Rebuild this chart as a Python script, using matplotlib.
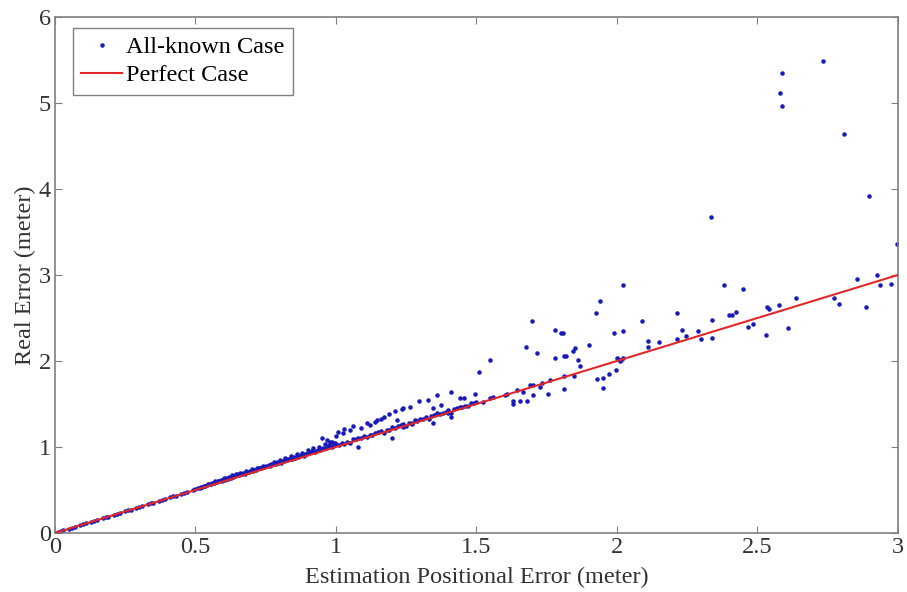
import matplotlib
matplotlib.use("Agg")
import matplotlib.pyplot as plt

plt.rcParams['font.family'] = ['Liberation Serif', 'DejaVu Serif']

# Estimated positional error (x) vs real error (y)
est_a = [0.01,0.03,0.05,0.07,0.09,0.11,0.13,0.15,0.17,0.19,0.21,0.23,0.25,0.27,0.29,0.31,0.33,0.35,0.37,0.39,0.41,0.43,0.45,0.47,0.49,
         0.02,0.06,0.10,0.14,0.18,0.22,0.26,0.30,0.34,0.38,0.42,0.46,0.50]
real_a = [0.01,0.03,0.05,0.071,0.09,0.111,0.13,0.151,0.171,0.19,0.212,0.231,0.252,0.272,0.291,0.313,0.332,0.353,0.374,0.392,0.415,0.434,0.456,0.474,0.496,
          0.02,0.06,0.10,0.141,0.181,0.222,0.263,0.303,0.344,0.385,0.426,0.467,0.508]

est_b = [0.51,0.52,0.53,0.54,0.55,0.56,0.57,0.58,0.59,0.60,0.61,0.62,0.63,0.64,0.65,0.66,0.67,0.68,0.69,0.70,0.71,0.72,0.73,0.74,0.75,
         0.515,0.535,0.555,0.575,0.595,0.615,0.635,0.655,0.675,0.695,0.715,0.735,
         0.525,0.545,0.565,0.585,0.605,0.625,0.645,0.665,0.685,0.705,0.725,0.745]
real_b = [0.52,0.54,0.545,0.56,0.575,0.58,0.60,0.605,0.62,0.64,0.635,0.655,0.67,0.665,0.69,0.695,0.70,0.72,0.71,0.74,0.735,0.76,0.75,0.775,0.78,
          0.525,0.55,0.565,0.59,0.605,0.63,0.65,0.67,0.69,0.715,0.73,0.755,
          0.54,0.565,0.58,0.61,0.62,0.645,0.68,0.685,0.71,0.725,0.75,0.77]

est_c = [0.76,0.77,0.78,0.79,0.80,0.81,0.82,0.83,0.84,0.85,0.86,0.87,0.88,0.89,0.90,0.91,0.92,0.93,0.94,0.95,0.96,0.97,0.98,0.99,1.00,
         0.765,0.785,0.805,0.825,0.845,0.865,0.885,0.905,0.925,0.945,0.965,0.985,
         0.775,0.795,0.815,0.835,0.855,0.875,0.895,0.915,0.935,0.955,0.975,0.995]
real_c = [0.79,0.80,0.83,0.82,0.85,0.84,0.87,0.86,0.89,0.88,0.92,0.90,0.93,0.92,0.96,0.94,0.99,0.95,1.00,0.98,1.03,1.00,1.06,1.01,1.04,
          0.775,0.80,0.815,0.845,0.86,0.88,0.90,0.925,0.94,0.96,0.985,1.00,
          0.80,0.815,0.84,0.86,0.875,0.905,0.915,0.95,0.965,0.99,1.02,1.05]

est_d = [1.01,1.03,1.05,1.07,1.09,1.11,1.13,1.15,1.17,1.19,1.21,1.23,1.25,1.27,1.29,1.31,1.33,1.35,1.37,1.39,1.41,1.43,1.45,1.47,1.49,
         0.95,0.967,0.985,1.008,1.026,1.05,1.09,1.11,1.14,1.145,1.16,1.17,1.19,1.21,1.216,1.234,1.263,1.296,1.326,1.344,1.36,1.374,
         1.41,1.44,1.457,1.495,1.08,1.20,1.24,1.27,1.344,1.40,1.41,1.237,1.00,1.03,1.06,1.12,
         1.02,1.04,1.06,1.08,1.10,1.12,1.14,1.16,1.18,1.20,1.22,1.24,1.26,1.28,1.30,1.32,1.34,1.36,1.38,1.40,1.42,1.44,1.46,1.48,1.50]
real_d = [1.02,1.04,1.05,1.09,1.10,1.12,1.14,1.17,1.16,1.20,1.22,1.25,1.24,1.28,1.30,1.33,1.32,1.37,1.38,1.41,1.40,1.45,1.46,1.48,1.51,
          1.10,1.08,1.06,1.18,1.16,1.198,1.217,1.276,1.29,1.31,1.33,1.35,1.38,1.415,1.31,1.44,1.46,1.535,1.547,1.457,1.61,1.49,
          1.64,1.566,1.573,1.62,0.996,1.11,1.236,1.267,1.276,1.39,1.345,1.45,1.13,1.21,1.24,1.25,
          1.05,1.06,1.09,1.10,1.13,1.14,1.16,1.19,1.20,1.23,1.24,1.27,1.28,1.31,1.32,1.35,1.36,1.39,1.40,1.43,1.44,1.47,1.48,1.51,1.52]

est_e = [1.51,1.55,1.524,1.56,1.55,1.60,1.61,1.63,1.63,1.655,1.68,1.643,1.667,1.70,1.69,1.70,1.726,1.733,1.755,1.76,1.81,1.81,1.847,
         1.676,1.696,1.716,1.78,1.807,1.80,1.78,1.81,1.82,1.845,1.85,1.86,1.87,1.90,1.926,1.94,1.95,1.95,1.93,1.97,1.996,
         2.01,2.02,2.005,2.015,2.0,1.99,2.02,2.02,2.088,2.109,2.109,2.149,2.212,2.213,2.232,2.247,2.29,2.30,2.34,2.34,2.333,
         2.40,2.41,2.423,2.45,2.382,2.467,2.485,2.53,2.607,2.535,2.54,2.577,2.637,2.773,2.79,2.854,2.885,2.924,2.936,2.975,
         2.58,2.588,2.586,2.733,2.807,2.896,2.998]
real_e = [1.87,2.01,1.52,1.585,1.57,1.60,1.62,1.53,1.50,1.53,1.54,1.66,1.64,1.72,1.72,1.60,1.70,1.74,1.616,1.78,1.68,1.83,1.826,
          2.16,2.47,2.09,2.357,2.33,2.32,2.04,2.06,2.06,2.116,2.155,2.01,1.945,2.186,2.555,2.70,1.80,1.686,1.79,1.85,1.895,
          2.0,2.03,2.02,2.01,2.04,2.325,2.35,2.887,2.47,2.236,2.166,2.22,2.26,2.56,2.36,2.295,2.35,2.25,2.27,2.48,3.67,
          2.535,2.53,2.573,2.84,2.887,2.40,2.434,2.306,2.38,2.63,2.61,2.655,2.736,2.73,2.66,2.95,2.63,3.0,2.887,2.90,
          5.116,5.345,4.965,5.49,4.636,3.92,3.357]

perfect_x = [0, 3]
perfect_y = [0, 3]

est = est_a + est_b + est_c + est_d + est_e
real = real_a + real_b + real_c + real_d + real_e

fig = plt.figure(figsize=(9.07, 5.92), dpi=100)
ax = fig.add_axes([0.0606, 0.0997, 0.9294, 0.8716])

ax.plot(est, real, linestyle='none', marker='.', markersize=4.5, color='#1a1ab8',
        label='All-known Case', zorder=2)
ax.plot(perfect_x, perfect_y, color='#e02828', linewidth=1.5, label='Perfect Case', zorder=3)

ax.set_xlim(0, 3)
ax.set_ylim(0, 6)
ax.set_xticks([0, 0.5, 1, 1.5, 2, 2.5, 3])
ax.set_xticklabels(['0', '0.5', '1', '1.5', '2', '2.5', '3'])
ax.set_yticks([0, 1, 2, 3, 4, 5, 6])

grey = '#808080'
for s in ax.spines.values():
    s.set_color(grey)
    s.set_linewidth(1.2)
ax.tick_params(direction='in', length=5, color=grey, labelsize=17.5, labelcolor='#333333',
               top=True, right=True, pad=3)

ax.set_xlabel('Estimation Positional Error (meter)', fontsize=17.5, color='#333333', labelpad=6)
ax.set_ylabel('Real Error (meter)', fontsize=17.5, color='#333333', labelpad=2)

leg = ax.legend(loc='upper left', bbox_to_anchor=(0.021, 0.979), borderaxespad=0,
                fontsize=17.5, fancybox=False, framealpha=1, edgecolor=grey,
                handlelength=1.7, handletextpad=0.15, borderpad=0.35, labelspacing=0.25)
leg.get_frame().set_linewidth(1.0)

fig.savefig('out.png', dpi=100)
